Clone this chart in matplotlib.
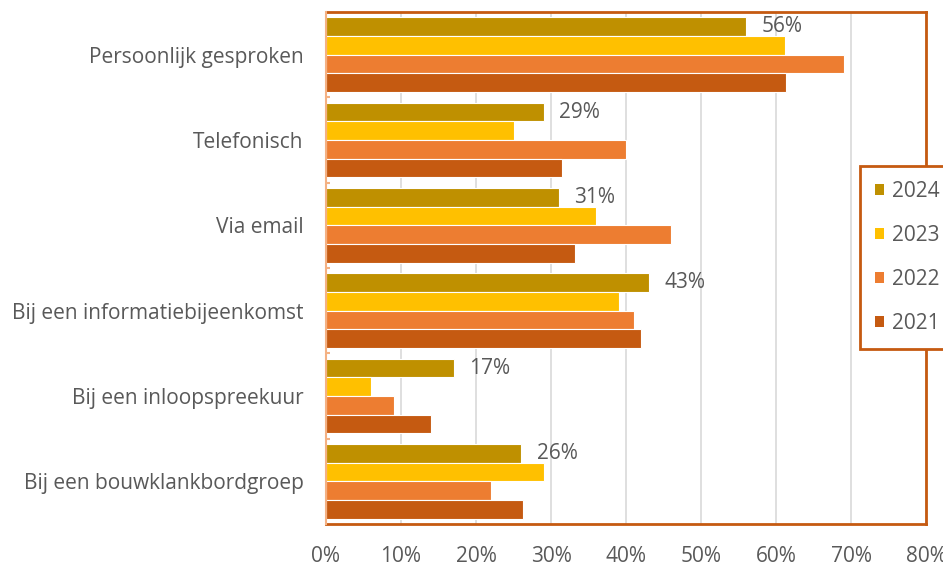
import matplotlib
matplotlib.use("Agg")
import matplotlib.pyplot as plt
from matplotlib.patches import Patch
import numpy as np

categories = ["Persoonlijk gesproken", "Telefonisch", "Via email",
              "Bij een informatiebijeenkomst", "Bij een inloopspreekuur",
              "Bij een bouwklankbordgroep"]
years = ["2024", "2023", "2022", "2021"]
v2024 = [56, 29, 31, 43, 17, 26]
v2023 = [61.2, 25, 36, 39, 6, 29]
v2022 = [69, 40, 46, 41, 9, 22]
v2021 = [61.3, 31.5, 33.2, 42, 14, 26.2]
series = [v2024, v2023, v2022, v2021]
colors = ["#BF9000", "#FFC000", "#ED7D31", "#C55A11"]
xticks = [0, 10, 20, 30, 40, 50, 60, 70, 80]

plt.rcParams['font.family'] = ['Open Sans', 'DejaVu Sans']
txt = "#595959"
fs = 15

fig = plt.figure(figsize=(9.43, 5.69), dpi=100)
ax = fig.add_axes([326/943, 1-524/569, 600/943, 512/569])

n = len(categories)
y = np.arange(n)
h = 0.218
for k, (vals, c) in enumerate(zip(series, colors)):
    ax.barh(y + (k - 1.5) * h, vals, height=h, color=c, edgecolor="white",
            linewidth=0.8, zorder=3, label=years[k])

for i, v in enumerate(v2024):
    ax.annotate(f"{v:.0f}%", xy=(v, y[i] - 1.5 * h), xytext=(16, 0),
                textcoords="offset pixels", ha="left", va="center",
                fontsize=fs, color=txt, zorder=4)

ax.set_xlim(0, 80)
ax.set_ylim(n - 0.5, -0.5)
ax.set_xticks(xticks)
ax.set_xticklabels([f"{t}%" for t in xticks], fontsize=fs, color=txt)
ax.set_yticks(y)
ax.set_yticklabels(categories, fontsize=fs, color=txt)
ax.tick_params(axis="x", length=0, pad=15.5)
ax.tick_params(axis="y", length=0, pad=16)
ax.set_yticks(np.arange(0.5, n - 0.5, 1), minor=True)
ax.tick_params(axis="y", which="minor", direction="in", length=3, width=1.5,
               color="#F4B183")
ax.xaxis.grid(True, color="#D9D9D9", linewidth=1.2, zorder=0)
ax.set_axisbelow(True)

for s in ["top", "right", "bottom"]:
    ax.spines[s].set_color("#C55A11")
    ax.spines[s].set_linewidth(2.0)
ax.spines["left"].set_color("#F4B183")
ax.spines["left"].set_linewidth(1.5)
ax.spines["left"].set_zorder(5)

handles = [Patch(facecolor=c, edgecolor="none") for c in colors]
leg = fig.legend(handles, years, loc="upper left",
                 bbox_to_anchor=(860/943, 1-166/569), fontsize=fs,
                 labelcolor=txt, frameon=True, fancybox=False,
                 handlelength=0.45, handleheight=0.45, handletextpad=0.35,
                 labelspacing=1.1, borderpad=0.72, borderaxespad=0)
leg.get_frame().set_edgecolor("#C55A11")
leg.get_frame().set_linewidth(2.0)
leg.get_frame().set_facecolor("white")
leg.get_frame().set_alpha(1)

fig.savefig("out.png", dpi=100)
